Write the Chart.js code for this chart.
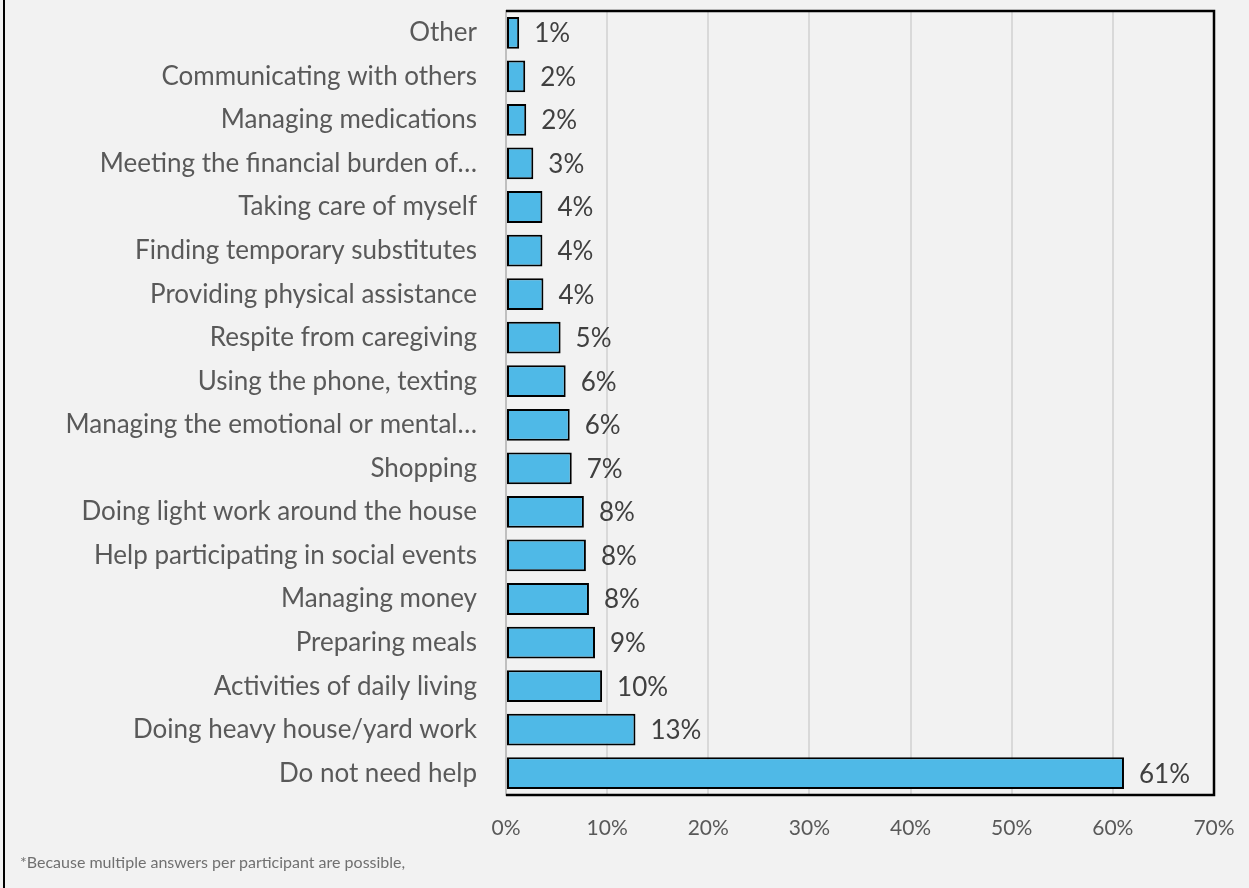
<!DOCTYPE html>
<html lang="en">
<head>
    <meta charset="UTF-8">
    <title>Help needed</title>
    <script src="https://cdn.jsdelivr.net/npm/chart.js"></script>
    <style>
        html, body {
            margin: 0;
            padding: 0;
            background: #f2f2f2;
        }
        .page {
            position: relative;
            width: 1249px;
            height: 888px;
            overflow: hidden;
        }
        .edge {
            position: absolute;
            left: 3px;
            top: 0;
            width: 2px;
            height: 888px;
            background: #000;
        }
        canvas {
            position: absolute;
            left: 0;
            top: 0;
        }
        .note {
            position: absolute;
            left: 20px;
            top: 852px;
            font-family: Lato, sans-serif;
            font-size: 16px;
            color: #707070;
        }
    </style>
</head>
<body>
    <div class="page">
        <canvas id="helpChart" width="1249" height="888"></canvas>
        <div class="edge"></div>
        <div class="note">*Because multiple answers per participant are possible,</div>
    </div>

    <script>
        // categories, top to bottom
        const categories = [
            'Other',
            'Communicating with others',
            'Managing medications',
            'Meeting the financial burden of…',
            'Taking care of myself',
            'Finding temporary substitutes',
            'Providing physical assistance',
            'Respite from caregiving',
            'Using the phone, texting',
            'Managing the emotional or mental…',
            'Shopping',
            'Doing light work around the house',
            'Help participating in social events',
            'Managing money',
            'Preparing meals',
            'Activities of daily living',
            'Doing heavy house/yard work',
            'Do not need help'
        ];

        // share of participants (%)
        const shares = [1.3, 1.9, 2.0, 2.7, 3.6, 3.6, 3.7, 5.4, 5.9, 6.3, 6.5, 7.7, 7.9, 8.2, 8.8, 9.5, 12.8, 61.1];

        const xTicks = [0, 10, 20, 30, 40, 50, 60, 70];

        const FONT = 'Lato';

        // percentage labels next to each bar
        const barLabels = {
            id: 'barLabels',
            afterDatasetsDraw(chart) {
                const ctx = chart.ctx;
                const meta = chart.getDatasetMeta(0);
                ctx.save();
                ctx.font = '26px ' + FONT;
                ctx.fillStyle = '#404040';
                ctx.textAlign = 'left';
                ctx.textBaseline = 'middle';
                meta.data.forEach((bar, i) => {
                    const v = chart.data.datasets[0].data[i];
                    ctx.fillText(Math.round(v) + '%', bar.x + 15, bar.y + 1);
                });
                ctx.restore();
            }
        };

        // black frame on top, right and bottom of the plot
        const plotFrame = {
            id: 'plotFrame',
            afterDatasetsDraw(chart) {
                const a = chart.chartArea;
                const ctx = chart.ctx;
                ctx.save();
                ctx.strokeStyle = '#000';
                ctx.lineWidth = 2.5;
                ctx.beginPath();
                ctx.moveTo(a.left, a.top);
                ctx.lineTo(a.right, a.top);
                ctx.lineTo(a.right, a.bottom);
                ctx.lineTo(a.left, a.bottom);
                ctx.stroke();
                ctx.restore();
            }
        };

        const ctx = document.getElementById('helpChart').getContext('2d');

        new Chart(ctx, {
            type: 'bar',
            data: {
                labels: categories,
                datasets: [{
                    data: shares,
                    backgroundColor: '#4fb9e7',
                    borderColor: '#000',
                    borderWidth: 2,
                    borderSkipped: false,
                    categoryPercentage: 0.73,
                    barPercentage: 1
                }]
            },
            options: {
                indexAxis: 'y',
                responsive: false,
                animation: false,
                layout: {
                    padding: { top: 11, right: 35, bottom: 0, left: 0 }
                },
                plugins: {
                    legend: { display: false },
                    tooltip: { enabled: false }
                },
                scales: {
                    x: {
                        min: 0,
                        max: 70,
                        afterBuildTicks: (scale) => {
                            scale.ticks = xTicks.map(v => ({ value: v }));
                        },
                        afterFit: (scale) => {
                            scale.height = 93;
                            scale.paddingLeft = 0;
                            scale.paddingRight = 0;
                        },
                        grid: {
                            color: '#d9d9d9',
                            lineWidth: 2,
                            drawTicks: false
                        },
                        border: { display: false },
                        ticks: {
                            padding: 21,
                            color: '#595959',
                            font: { family: FONT, size: 21 },
                            callback: (v) => v + '%'
                        }
                    },
                    y: {
                        afterFit: (scale) => {
                            scale.width = 506;
                            scale.paddingTop = 0;
                            scale.paddingBottom = 0;
                        },
                        grid: { display: false, drawTicks: false },
                        border: { display: true, color: '#bfbfbf', width: 2 },
                        ticks: {
                            padding: 29,
                            color: '#595959',
                            font: { family: FONT, size: 26 }
                        }
                    }
                }
            },
            plugins: [barLabels, plotFrame]
        });
    </script>
</body>
</html>
